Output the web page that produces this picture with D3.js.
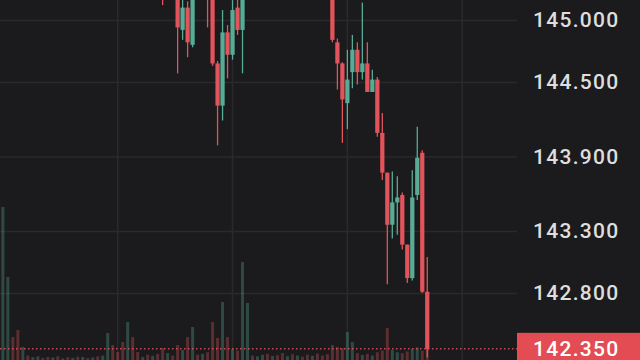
<!DOCTYPE html>
<html>
<head>
<meta charset="utf-8">
<script src="https://cdn.jsdelivr.net/npm/d3@7"></script>
<style>
  html, body { margin: 0; padding: 0; background: #1b1b1d; }
  #chart { width: 640px; height: 360px; overflow: hidden; }
</style>
</head>
<body>
<div id="chart"></div>
<script>
// candles, one per bar (oldest first); many of the early ones sit above the visible range
var opens  = [145.60,145.72,145.80,145.70,145.58,145.64,145.61,145.66,145.70,145.67,
              145.59,145.63,145.60,145.62,145.58,145.61,145.57,145.64,145.62,145.65,
              145.61,145.63,145.72,145.62,145.57,145.47,145.56,145.46,145.41,145.44,
              145.40,145.43,145.38,145.25,145.30,145.27,144.92,145.10,144.80,145.23,
              145.20,145.26,145.24,144.65,144.31,144.90,144.72,145.10,144.92,145.24,
              145.35,145.30,145.38,145.44,145.40,145.47,145.42,145.38,145.43,145.39,
              145.45,145.41,145.37,145.40,145.35,145.33,145.31,144.82,144.65,144.33,
              144.58,144.76,144.58,144.65,144.42,144.52,144.09,143.77,143.35,143.53,
              143.59,143.19,142.92,143.59,143.93,142.81];
var closes = [145.72,145.80,145.70,145.58,145.64,145.61,145.66,145.70,145.67,145.59,
              145.63,145.60,145.62,145.58,145.61,145.57,145.64,145.62,145.65,145.61,
              145.63,145.72,145.62,145.57,145.47,145.56,145.46,145.41,145.44,145.40,
              145.43,145.38,145.25,145.30,145.27,144.94,145.10,144.82,145.23,145.20,
              145.26,145.22,144.65,144.31,144.90,144.72,145.08,144.92,145.24,145.35,
              145.30,145.38,145.44,145.40,145.47,145.42,145.38,145.43,145.39,145.45,
              145.41,145.37,145.40,145.35,145.33,145.31,144.84,144.65,144.36,144.52,
              144.76,144.58,144.65,144.42,144.52,144.09,143.77,143.35,143.53,143.57,
              143.19,142.92,143.57,143.89,142.81,142.35];
var highs  = [145.78,145.85,145.84,145.74,145.69,145.68,145.70,145.73,145.74,145.70,
              145.66,145.67,145.65,145.64,145.64,145.63,145.68,145.67,145.68,145.67,
              145.66,145.76,145.74,145.64,145.60,145.60,145.58,145.49,145.47,145.46,
              145.46,145.45,145.40,145.34,145.33,145.32,145.18,145.15,145.28,145.30,
              145.31,145.35,145.28,144.67,145.08,144.96,145.16,145.20,145.32,145.40,
              145.38,145.42,145.48,145.47,145.50,145.49,145.45,145.46,145.45,145.49,
              145.47,145.43,145.43,145.42,145.38,145.36,145.36,144.85,144.66,144.76,
              144.88,144.82,145.14,144.82,144.60,144.54,144.25,143.77,143.78,143.74,
              143.61,143.19,143.79,144.14,143.95,143.09];
var lows   = [145.55,145.66,145.65,145.52,145.54,145.57,145.58,145.62,145.63,145.55,
              145.56,145.57,145.57,145.55,145.55,145.54,145.55,145.59,145.60,145.58,
              145.58,145.60,145.58,145.54,145.44,145.43,145.42,145.38,145.38,145.36,
              145.37,145.34,145.12,145.20,145.22,144.57,144.84,144.70,144.78,145.18,
              145.17,144.94,144.63,143.99,144.19,144.53,144.68,144.88,144.57,145.20,
              145.25,145.27,145.35,145.36,145.38,145.39,145.34,145.35,145.36,145.37,
              145.38,145.33,145.34,145.31,145.28,145.26,144.82,144.44,144.01,144.12,
              144.45,144.48,144.52,144.42,144.42,144.06,143.71,142.87,143.24,143.27,
              143.15,142.88,142.90,143.55,142.80,142.28];
var volumes = [957,525,154,198,93,40,30,35,25,31,
               28,35,22,30,26,33,31,25,28,35,
               40,179,105,62,123,247,154,62,30,45,
               38,50,86,55,40,105,74,154,216,45,
               50,60,247,148,370,154,80,70,617,364,
               40,35,45,50,38,42,55,36,48,40,
               33,45,38,52,40,48,105,93,86,185,
               123,55,43,50,40,60,70,210,74,60,
               55,65,80,90,70,117];

// price axis labels and time grid positions (bar index)
var priceTicks = [145.0, 144.5, 143.9, 143.3, 142.8];
var timeGrid = [23, 46, 69, 92];
var barSlots = 104;

var width = 640, height = 360, plotW = 517;
var bg = "#1b1b1d", gridCol = "#2a2a2c";
var upCol = "#58ab95", downCol = "#e2545c";

var svg = d3.select("#chart")
  .append("svg")
    .attr("width", width)
    .attr("height", height);

svg.append("rect")
  .attr("width", width)
  .attr("height", height)
  .attr("fill", bg);

var x = d3.scaleBand()
  .domain(d3.range(barSlots))
  .range([0, 520])
  .padding(0.15);

var y = d3.scaleLinear()
  .domain([142.8, 145.0])
  .range([293, 20]);

var yVol = d3.scaleLinear()
  .domain([0, 1000])
  .range([362, 200]);

var bars = closes.map(function(c, i) {
  return {i: i, o: opens[i], h: highs[i], l: lows[i], c: c, v: volumes[i]};
});

svg.append("clipPath")
    .attr("id", "plot")
  .append("rect")
    .attr("width", plotW)
    .attr("height", height);

var plot = svg.append("g").attr("clip-path", "url(#plot)");

// grid
var hGrid = plot.append("g")
  .call(d3.axisRight(y).tickValues(priceTicks).tickSize(plotW).tickFormat(""));
var vGrid = plot.append("g")
  .attr("transform", "translate(0," + height + ")")
  .call(d3.axisBottom(x).tickValues(timeGrid).tickSize(-height).tickFormat(""));
[hGrid, vGrid].forEach(function(g) {
  g.select(".domain").remove();
  g.selectAll("line").attr("stroke", gridCol).attr("stroke-width", 1.5);
});

// volume
plot.selectAll("rect.vol")
  .data(bars)
  .enter()
  .append("rect")
    .attr("class", "vol")
    .attr("x", function(d) { return x(d.i) + x.bandwidth() * 0.15; })
    .attr("width", x.bandwidth() * 0.7)
    .attr("y", function(d) { return yVol(d.v); })
    .attr("height", function(d) { return yVol(0) - yVol(d.v); })
    .attr("fill", function(d) { return d.c >= d.o ? upCol : downCol; })
    .attr("opacity", 0.33);

// wicks
plot.selectAll("line.wick")
  .data(bars)
  .enter()
  .append("line")
    .attr("class", "wick")
    .attr("x1", function(d) { return x(d.i) + x.bandwidth() / 2; })
    .attr("x2", function(d) { return x(d.i) + x.bandwidth() / 2; })
    .attr("y1", function(d) { return y(d.h); })
    .attr("y2", function(d) { return y(d.l); })
    .attr("stroke", function(d) { return d.c >= d.o ? upCol : downCol; })
    .attr("stroke-width", 1.3);

// bodies
plot.selectAll("rect.body")
  .data(bars)
  .enter()
  .append("rect")
    .attr("class", "body")
    .attr("x", function(d) { return x(d.i); })
    .attr("width", x.bandwidth())
    .attr("y", function(d) { return y(Math.max(d.o, d.c)); })
    .attr("height", function(d) { return Math.max(1, Math.abs(y(d.o) - y(d.c))); })
    .attr("fill", function(d) { return d.c >= d.o ? upCol : downCol; });

// last price line
var lastPrice = closes[closes.length - 1];
plot.append("line")
  .attr("x1", 0)
  .attr("x2", plotW)
  .attr("y1", y(lastPrice))
  .attr("y2", y(lastPrice))
  .attr("stroke", downCol)
  .attr("stroke-width", 1.5)
  .attr("stroke-dasharray", "1.5,2.5")
  .attr("opacity", 0.85);

// price labels
var axis = svg.append("g")
  .attr("transform", "translate(" + plotW + ",0)")
  .call(d3.axisRight(y).tickValues(priceTicks).tickSize(0).tickPadding(16).tickFormat(d3.format(".3f")));
axis.select(".domain").remove();
axis.selectAll("text")
  .attr("fill", "#dedede")
  .style("font-family", "Roboto, 'Liberation Sans', sans-serif")
  .style("font-size", "21px")
  .style("font-weight", "500")
  .style("letter-spacing", "1.3px");

// last price tag
svg.append("rect")
  .attr("x", plotW)
  .attr("y", y(lastPrice) - 16)
  .attr("width", width - plotW)
  .attr("height", 34)
  .attr("fill", "#e34c52");
svg.append("text")
  .attr("x", plotW + 16)
  .attr("y", y(lastPrice))
  .attr("dy", "0.36em")
  .attr("fill", "#ffffff")
  .style("font-family", "Roboto, 'Liberation Sans', sans-serif")
  .style("font-size", "21px")
  .style("font-weight", "500")
  .style("letter-spacing", "1.3px")
  .text(d3.format(".3f")(lastPrice));
</script>
</body>
</html>
